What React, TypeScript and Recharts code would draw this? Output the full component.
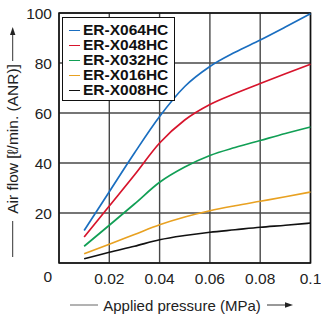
import { CartesianGrid, Legend, Line, LineChart, ReferenceArea, XAxis, YAxis } from 'recharts';

const pressure = [0.01, 0.02, 0.03, 0.04, 0.05, 0.06, 0.07, 0.08, 0.09, 0.1];
const x064 = [13, 28.5, 44, 58.6, 70.6, 78.6, 84.3, 89.2, 94.4, 99.7];
const x048 = [10.4, 22.8, 35.2, 48, 57.2, 63.4, 67.8, 71.8, 75.7, 79.5];
const x032 = [6.7, 15.1, 23.6, 32.3, 38.4, 43, 46.2, 49, 51.8, 54.4];
const x016 = [3.7, 7.5, 11.4, 15.3, 18.4, 20.9, 22.9, 24.7, 26.5, 28.4];
const x008 = [1.7, 4.3, 6.7, 9.3, 11, 12.3, 13.3, 14.3, 15.1, 16];

const xTicks = [0.02, 0.04, 0.06, 0.08, 0.1];
const yTicks = [0, 20, 40, 60, 80, 100];

const series = [
  { key: 'x064', name: 'ER-X064HC', color: '#1a6ec0', values: x064 },
  { key: 'x048', name: 'ER-X048HC', color: '#d7142c', values: x048 },
  { key: 'x032', name: 'ER-X032HC', color: '#119f55', values: x032 },
  { key: 'x016', name: 'ER-X016HC', color: '#e8a121', values: x016 },
  { key: 'x008', name: 'ER-X008HC', color: '#111111', values: x008 },
];

const data = pressure.map((p, i) => {
  const row: Record<string, number> = { p };
  series.forEach((s) => {
    row[s.key] = s.values[i];
  });
  return row;
});

const font = 'Liberation Sans, Arial, sans-serif';

function XTick({ x, y, payload }: any) {
  return (
    <text x={x} y={y + 13.5} textAnchor="middle" dominantBaseline="central" fontSize={15.5} fill="#222" fontFamily={font}>
      {String(payload.value)}
    </text>
  );
}

function YTick({ x, y, payload }: any) {
  const dy = payload.value === 0 ? 13.5 : 0;
  return (
    <text x={x - 7} y={y + dy} textAnchor="end" dominantBaseline="central" fontSize={15.5} fill="#222" fontFamily={font}>
      {payload.value}
    </text>
  );
}

function YLabel() {
  return (
    <g>
      <line x1={12.7} y1={257} x2={12.7} y2={221} stroke="#333" strokeWidth={1} />
      <text
        x={12.7}
        y={139}
        transform="rotate(-90 12.7 139)"
        textAnchor="middle"
        dominantBaseline="central"
        fontSize={15.5}
        fill="#222"
        fontFamily={font}
      >
        Air flow [ℓ/min. (ANR)]
      </text>
      <line x1={12.7} y1={61} x2={12.7} y2={33} stroke="#333" strokeWidth={1} />
      <path d="M12.7 27 L10 35 L15.4 35 Z" fill="#222" />
    </g>
  );
}

function XLabel() {
  return (
    <g>
      <line x1={70} y1={305} x2={98} y2={305} stroke="#666" strokeWidth={1} />
      <text x={182} y={305.5} textAnchor="middle" dominantBaseline="central" fontSize={15} fill="#222" fontFamily={font}>
        Applied pressure (MPa)
      </text>
      <line x1={267} y1={305} x2={287} y2={305} stroke="#333" strokeWidth={1} />
      <path d="M293 305 L285 302.3 L285 307.7 Z" fill="#222" />
    </g>
  );
}

function LegendBox() {
  return (
    <div
      style={{
        boxSizing: 'border-box',
        width: 113,
        height: 84,
        border: '1.5px solid #111',
        background: '#fff',
        padding: '5px 0 0 6px',
        fontFamily: font,
        fontWeight: 'bold',
        fontSize: 15.5,
        color: '#111',
      }}
    >
      {series.map((s) => (
        <div key={s.key} style={{ display: 'flex', alignItems: 'center', height: 14.9, lineHeight: '14.9px' }}>
          <span style={{ display: 'inline-block', width: 11, height: 0, borderTop: `1.5px solid ${s.color}`, marginRight: 3 }} />
          <span>{s.name}</span>
        </div>
      ))}
    </div>
  );
}

export default function App() {
  return (
    <div style={{ position: 'absolute', left: 0, top: 0, background: '#fff' }}>
      <LineChart width={321} height={320} data={data} margin={{ top: 13, right: 10.5, left: 0, bottom: 0 }}>
        <CartesianGrid stroke="#484848" strokeWidth={1.4} />
        <XAxis
          dataKey="p"
          type="number"
          domain={[0, 0.1]}
          ticks={xTicks}
          tick={<XTick />}
          tickLine={false}
          tickSize={0}
          axisLine={false}
          height={57}
          label={{ content: () => <XLabel /> }}
        />
        <YAxis
          type="number"
          domain={[0, 100]}
          ticks={yTicks}
          tick={<YTick />}
          tickLine={false}
          tickSize={0}
          tickMargin={0}
          axisLine={false}
          width={59}
          label={{ content: () => <YLabel /> }}
        />
        <ReferenceArea x1={0} x2={0.1} y1={0} y2={100} fill="none" stroke="#111" strokeWidth={1.5} />
        {series.map((s) => (
          <Line
            key={s.key}
            dataKey={s.key}
            name={s.name}
            type="monotone"
            stroke={s.color}
            strokeWidth={1.7}
            dot={false}
            isAnimationActive={false}
          />
        ))}
        <Legend
          layout="vertical"
          align="center"
          verticalAlign="middle"
          wrapperStyle={{ left: 62, top: 17, width: 113 }}
          content={() => <LegendBox />}
        />
      </LineChart>
    </div>
  );
}
